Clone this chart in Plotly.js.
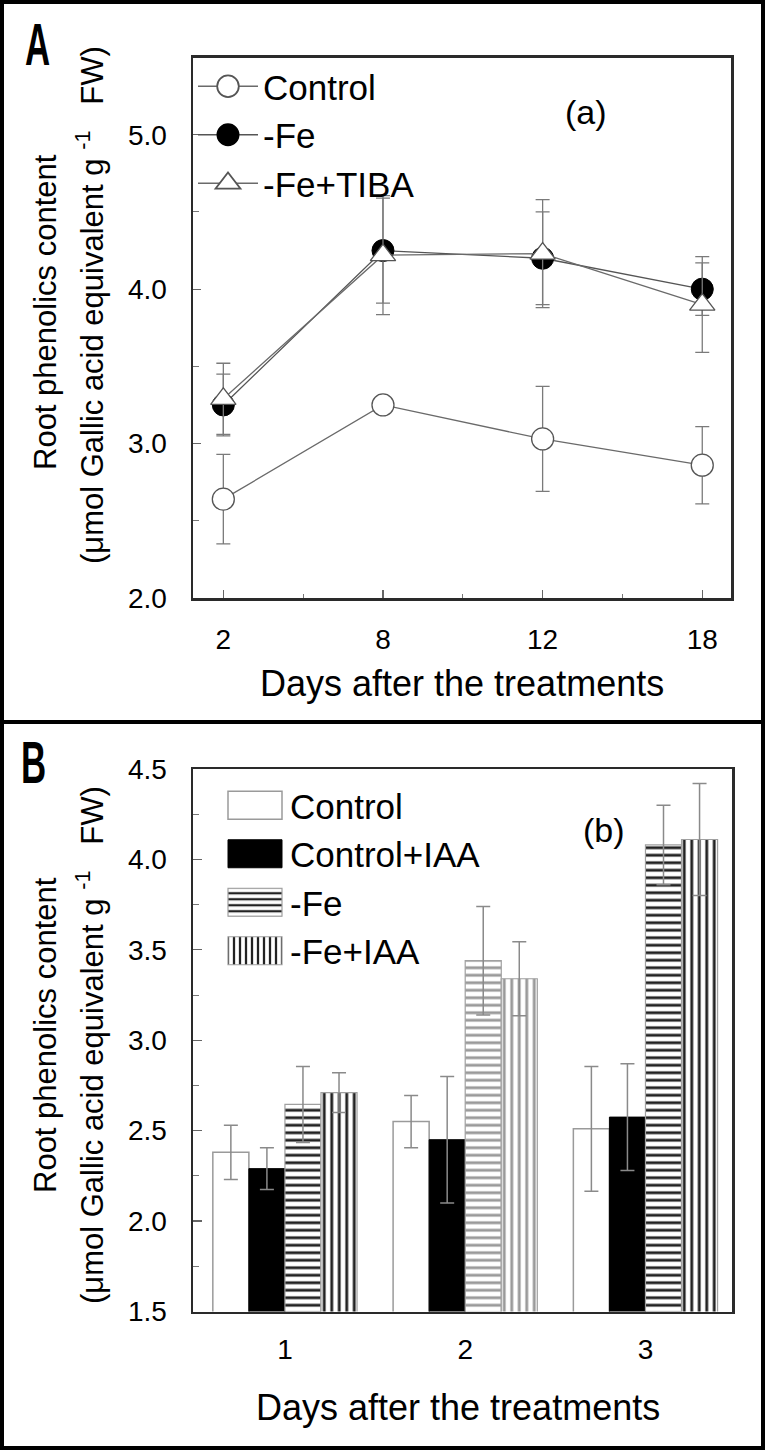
<!DOCTYPE html>
<html>
<head>
<meta charset="utf-8">
<script src="https://cdn.plot.ly/plotly-3.0.1.min.js"></script>
<style>
html,body{margin:0;padding:0;background:#fff;}
#chart{width:765px;height:1450px;}
</style>
</head>
<body>
<div id="chart"></div>
<script>
// ---------- Panel A data ----------
var daysA = ['2', '8', '12', '18'];
var controlA = [2.64, 3.25, 3.03, 2.86];
var controlAErr = [0.29, 0.05, 0.34, 0.25];
var feA = [3.25, 4.25, 4.20, 4.00];
var feAErr = [0.20, 0.34, 0.30, 0.17];
var tibaA = [3.29, 4.22, 4.23, 3.90];
var tibaAErr = [0.23, 0.385, 0.35, 0.31];
var yTicksA = [2, 3, 4, 5];

// ---------- Panel B data ----------
var daysB = ['1', '2', '3'];
var ctrlB = [2.38, 2.55, 2.51];
var ctrlBErr = [0.15, 0.145, 0.345];
var ctrlIAA = [2.29, 2.45, 2.575];
var ctrlIAAErr = [0.115, 0.35, 0.295];
var feB = [2.645, 3.44, 4.08];
var feBErr = [0.21, 0.30, 0.22];
var feIAA = [2.71, 3.34, 4.11];
var feIAAErr = [0.11, 0.205, 0.31];

var FONT = 'Liberation Sans, Arial, Helvetica, sans-serif';
var W = 765, H = 1450;
function px(x){ return x / W; }
function py(y){ return 1 - y / H; }

var idxA = daysA.map(function(d, i){ return i; });

function errA(arr){
  return {type:'data', array:arr, visible:true, color:'#7a7a7a', thickness:1.3, width:7};
}

var traces = [
  {x: idxA, y: controlA, name: 'Control', type: 'scatter', mode: 'lines+markers',
   xaxis: 'x', yaxis: 'y', legend: 'legend',
   line: {color: '#6a6a6a', width: 1.3},
   marker: {symbol: 'circle', size: 22, color: '#ffffff', line: {color: '#555', width: 1.3}},
   error_y: errA(controlAErr)},
  {x: idxA, y: feA, name: '-Fe', type: 'scatter', mode: 'lines+markers',
   xaxis: 'x', yaxis: 'y', legend: 'legend',
   line: {color: '#555', width: 1.3},
   marker: {symbol: 'circle', size: 22, color: '#000000', line: {color: '#000', width: 1}},
   error_y: errA(feAErr)},
  {x: idxA, y: tibaA, name: '-Fe+TIBA', type: 'scatter', mode: 'lines+markers',
   xaxis: 'x', yaxis: 'y', legend: 'legend',
   line: {color: '#6a6a6a', width: 1.3},
   marker: {symbol: 'triangle-up', size: 22, color: '#ffffff', line: {color: '#555', width: 1.3}},
   error_y: errA(tibaAErr)}
];

function errB(arr){
  return {type:'data', array:arr, visible:true, color:'#8a8a8a', thickness:1.5, width:7};
}

traces.push(
  {x: daysB, y: ctrlB, name: 'Control', type: 'bar', xaxis: 'x2', yaxis: 'y2', legend: 'legend2',
   marker: {color: '#ffffff', line: {color: '#9a9a9a', width: 1.5}}, error_y: errB(ctrlBErr)},
  {x: daysB, y: ctrlIAA, name: 'Control+IAA', type: 'bar', xaxis: 'x2', yaxis: 'y2', legend: 'legend2',
   marker: {color: '#000000', line: {color: '#000', width: 1}}, error_y: errB(ctrlIAAErr)},
  {x: daysB, y: feB, name: '-Fe', type: 'bar', xaxis: 'x2', yaxis: 'y2', legend: 'legend2',
   marker: {color: '#ffffff', line: {color: '#a0a0a0', width: 1.2},
     pattern: {shape: '-', size: 7.5, solidity: 0.38, fgcolor: ['#222', '#9a9a9a', '#222'], bgcolor: '#ffffff', fillmode: 'replace'}},
   error_y: errB(feBErr)},
  {x: daysB, y: feIAA, name: '-Fe+IAA', type: 'bar', xaxis: 'x2', yaxis: 'y2', legend: 'legend2',
   marker: {color: '#ffffff', line: {color: '#a0a0a0', width: 1.2},
     pattern: {shape: '|', size: 7.5, solidity: 0.38, fgcolor: ['#222', '#9a9a9a', '#222'], bgcolor: '#ffffff', fillmode: 'replace'}},
   error_y: errB(feIAAErr)}
);

var axLine = {showline: true, mirror: true, linecolor: '#2a2a2a', linewidth: 2.5, zeroline: false, showgrid: false,
  tickfont: {family: FONT, size: 28, color: '#000'}};

function ann(text, x, y, size, extra){
  var a = {text: text, xref: 'paper', yref: 'paper', x: px(x), y: py(y), xanchor: 'center', yanchor: 'middle',
    showarrow: false, font: {family: FONT, size: size, color: '#000'}};
  return Object.assign(a, extra || {});
}

var yTitle2 = '(\u03bcmol Gallic acid equivalent g <sup>-1</sup>\u00a0\u00a0 FW)';
var BOLDFONT = {family: FONT, size: 60, color: '#000', weight: 'bold'};

var layout = {
  width: W, height: H, autosize: false,
  margin: {l: 0, r: 0, t: 0, b: 0, pad: 0},
  paper_bgcolor: '#ffffff', plot_bgcolor: '#ffffff',
  font: {family: FONT, color: '#000'},
  showlegend: true,
  barmode: 'group', bargap: 0.2, bargroupgap: 0,
  xaxis: Object.assign({}, axLine, {
    domain: [px(193), px(731)], range: [-0.19, 3.18], anchor: 'y',
    tickmode: 'array', tickvals: idxA, ticktext: daysA,
    ticks: 'inside', ticklen: 8, tickcolor: '#666', tickwidth: 1.2, ticklabelstandoff: 15,
    minor: {dtick: 0.5, tick0: 0, ticks: 'inside', ticklen: 4, tickcolor: '#777', tickwidth: 1}
  }),
  yaxis: Object.assign({}, axLine, {
    domain: [py(598), py(57.5)], range: [2, 5.5], anchor: 'x',
    tickmode: 'array', tickvals: yTicksA, tickformat: '.1f',
    ticks: 'inside', ticklen: 8, tickcolor: '#666', tickwidth: 1.2, ticklabelstandoff: 18,
    minor: {dtick: 0.5, tick0: 2, ticks: 'inside', ticklen: 6, tickcolor: '#777', tickwidth: 1}
  }),
  xaxis2: Object.assign({}, axLine, {
    domain: [px(193), px(732)], range: [-0.51, 2.48], anchor: 'y2', type: 'category',
    ticks: '', ticklabelstandoff: 11
  }),
  yaxis2: Object.assign({}, axLine, {
    domain: [py(1311.5), py(769)], range: [1.5, 4.5], anchor: 'x2',
    dtick: 0.5, tick0: 1.5, tickformat: '.1f',
    ticks: 'inside', ticklen: 9, tickcolor: '#666', tickwidth: 1.2, ticklabelstandoff: 18,
    minor: {dtick: 0.25, tick0: 1.5, ticks: 'inside', ticklen: 6, tickcolor: '#777', tickwidth: 1}
  }),
  legend: {x: px(193), y: py(57), xanchor: 'left', yanchor: 'top', bgcolor: 'rgba(0,0,0,0)',
    font: {family: FONT, size: 35, color: '#000'}, itemwidth: 60, tracegroupgap: 0, borderwidth: 0},
  legend2: {x: px(220), y: py(776), xanchor: 'left', yanchor: 'top', bgcolor: 'rgba(0,0,0,0)',
    font: {family: FONT, size: 35, color: '#000'}, itemwidth: 60, tracegroupgap: 0, borderwidth: 0},
  annotations: [
    ann('A', 37, 45, 60, {font: BOLDFONT}),
    ann('B', 33, 762, 60, {font: BOLDFONT}),
    ann('(a)', 586, 112, 34),
    ann('(b)', 604, 830, 34),
    ann('Days after the treatments', 462, 683, 36),
    ann('Days after the treatments', 458, 1407, 36),
    ann('Root phenolics content', 45, 312, 31, {textangle: -90}),
    ann(yTitle2, 90, 305, 31, {textangle: -90}),
    ann('Root phenolics content', 45, 1035, 31, {textangle: -90}),
    ann(yTitle2, 90, 1045, 31, {textangle: -90})
  ],
  shapes: [
    {type: 'rect', xref: 'paper', yref: 'paper', x0: 0, y0: 0, x1: 1, y1: 1, line: {color: '#000', width: 8}, layer: 'above'},
    {type: 'line', xref: 'paper', yref: 'paper', x0: 0, x1: 1, y0: py(722), y1: py(722), line: {color: '#000', width: 4}, layer: 'above'}
  ]
};

var gd = document.getElementById('chart');
Plotly.newPlot(gd, traces, layout, {staticPlot: true, displayModeBar: false}).then(function(){
  // enlarge legend swatches to match the reference
  gd.querySelectorAll('.legendpoints path').forEach(function(p){
    var cls = p.getAttribute('class') || '';
    var d = (p.getAttribute('d') || '').replace(/\s/g, '');
    if (cls.indexOf('scatterpts') >= 0) {
      var t = p.getAttribute('transform') || '';
      p.setAttribute('transform', t + ' scale(1.35)');
    } else if (d === 'M6,6H-6V-6H6Z') {
      p.setAttribute('d', 'M27,14H-27V-14H27Z');
    }
  });
  // narrow panel letters (condensed bold look)
  gd.querySelectorAll('text.annotation-text').forEach(function(t){
    var s = t.textContent;
    if (s === 'A' || s === 'B') {
      var bb = t.getBBox();
      var cx = bb.x + bb.width / 2;
      t.setAttribute('transform', 'translate(' + cx + ',0) scale(0.58,1) translate(' + (-cx) + ',0)');
    }
  });
});
</script>
</body>
</html>
